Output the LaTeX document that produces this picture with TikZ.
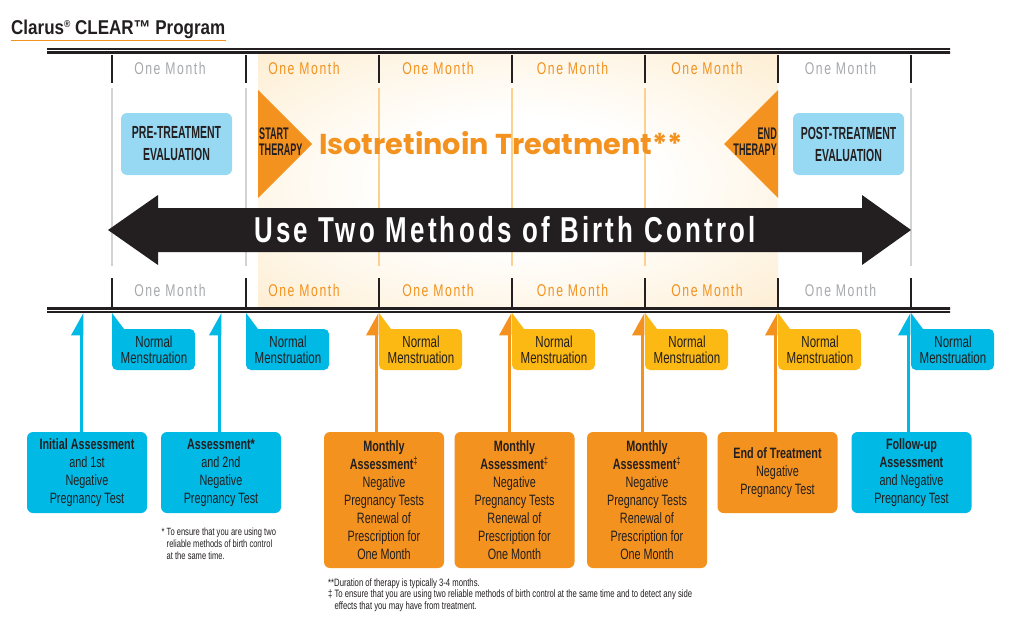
\documentclass[tikz,border=0pt]{standalone}
\usepackage{fontspec}
\setmainfont{Liberation Sans}
\newfontfamily\cnd[FakeStretch=0.72]{Liberation Sans}
\newfontfamily\hdf[FakeStretch=0.6]{Liberation Sans}
\newfontfamily\thf[FakeStretch=0.54]{Liberation Sans}
\newfontfamily\ttlf[FakeStretch=0.85]{Liberation Sans}
\newfontfamily\mthf[FakeStretch=0.72,LetterSpace=9]{Liberation Sans}
\newfontfamily\arrf[FakeStretch=0.72,LetterSpace=9]{Liberation Sans}
\newfontfamily\popf{Poppins}
\usetikzlibrary{arrows.meta}
\definecolor{cyanc}{HTML}{00B9E4}
\definecolor{lblue}{HTML}{97D9F2}
\definecolor{orng}{HTML}{F3921F}
\definecolor{yell}{HTML}{FDB913}
\definecolor{dk}{HTML}{231F20}
\definecolor{gtext}{HTML}{A7A9AC}
\definecolor{gline}{HTML}{D1D3D4}
\definecolor{oline}{HTML}{FCD18E}
\definecolor{treatbg}{HTML}{FDE4B8}
\pgfdeclareradialshading{glow}{\pgfpoint{0bp}{0bp}}{color(0bp)=(white); color(13bp)=(white); color(50bp)=(treatbg)}
\pgfdeclarehorizontalshading{fadeline}{100bp}{color(0bp)=(white); color(4.5bp)=(dk); color(97bp)=(dk); color(100bp)=(white)}
\newcommand\mcallout[3]{%
  \fill[#2] (#1,313) -- (#1+12,329) [rounded corners=5pt] -- (#1+83,329) -- (#1+83,370) -- (#1,370) [sharp corners] -- cycle;
  \node[ctext] (#3) at (#1+42,350) {Normal\\Menstruation};}
\begin{document}
\begin{tikzpicture}[x=1pt,y=-1pt,
  bbox/.style={fill=cyanc, rounded corners=6pt, minimum width=120pt, minimum height=81pt, inner sep=0pt, align=center, text=dk, font=\cnd\fontsize{15}{18}\selectfont},
  obox/.style={bbox, fill=orng},
  evbox/.style={fill=lblue, rounded corners=6pt, minimum width=111pt, minimum height=62pt, inner sep=0pt, align=center, text=dk, font=\hdf\bfseries\fontsize{17.5}{22}\selectfont},
  mlab/.style={font=\mthf\fontsize{17}{17}\selectfont, inner sep=0pt},
  ctext/.style={font=\cnd\fontsize{16}{16}\selectfont, text=dk, align=center, inner sep=0pt},
  thtext/.style={font=\thf\bfseries\fontsize{16.8}{16}\selectfont, text=dk, inner sep=0pt},
  tickln/.style={draw=dk, line width=2pt},
  upb/.style={draw=cyanc, line width=3.5pt, -{Triangle[harpoon, length=19pt, width=20pt]}},
  upo/.style={upb, draw=orng},
  fnote/.style={font=\cnd\fontsize{10.5}{12}\selectfont, text=dk, align=left, inner sep=0pt, anchor=north west}]
\useasboundingbox[fill=white] (0,0) rectangle (1012,626);
% treatment shading
\shade[shading=glow] (258,55) rectangle (778,308);
% double lines
\shade[shading=fadeline] (47,48.4) rectangle (950,50.0);
\shade[shading=fadeline] (47,51.7) rectangle (950,53.1);
\shade[shading=fadeline] (47,307.5) rectangle (950,309.1);
\shade[shading=fadeline] (47,311.0) rectangle (950,312.4);
% light vertical lines
\foreach \x in {112,246,911} \draw[gline, line width=1.2pt] (\x,88) -- (\x,266);
\foreach \x in {379,512,645} \draw[oline, line width=1.2pt] (\x,88) -- (\x,266);
% ticks
\foreach \x in {112,246,379,512,645,778,911} {
  \draw[tickln] (\x,55) -- (\x,83);
  \draw[tickln] (\x,278) -- (\x,307);}
% month labels
\foreach \x/\c/\n in {170/gtext/1,304/orng/2,438/orng/3,572.5/orng/4,707/orng/5,840.5/gtext/6} {
  \node[mlab, text=\c] (tm\n) at (\x,68.5) {One Month};
  \node[mlab, text=\c] (bm\n) at (\x,290) {One Month};}
% title
\node[anchor=base west, inner sep=0pt, font=\ttlf\bfseries\fontsize{20}{20}\selectfont, text=dk] (title) at (11,35) {Clarus\raisebox{7pt}{\fontsize{10}{10}\selectfont ®} CLEAR™ Program};
\draw[orng, line width=1.6pt] (10.5,40.5) -- (225.5,40.5);
% evaluation boxes
\node[evbox] (pre) at (176.5,144) {PRE-TREATMENT\\EVALUATION};
\node[evbox] (post) at (848.5,144) {POST-TREATMENT\\EVALUATION};
% therapy triangles
\fill[orng] (258,90) -- (312,144) -- (258,198) -- cycle;
\fill[orng] (778,90) -- (724,144) -- (778,198) -- cycle;
\node[thtext, anchor=west, align=left] (st) at (259,141.5) {START\\THERAPY};
\node[thtext, anchor=east, align=right] (et) at (777,141.5) {END\\THERAPY};
\node[anchor=base, font=\popf\bfseries\fontsize{28.7}{29}\selectfont, text=orng, inner sep=0pt] (iso) at (501,154) {Isotretinoin Treatment**};
% big arrow
\fill[dk] (108,230) -- (158,195) -- (158,208) -- (862,208) -- (862,195) -- (911,230) -- (862,265) -- (862,252) -- (158,252) -- (158,265) -- cycle;
\node[font=\arrf\bfseries\fontsize{36}{36}\selectfont, text=white, inner sep=0pt] (bc) at (505,230) {Use Two Methods of Birth Control};
% callouts
\mcallout{112}{cyanc}{c1}
\mcallout{246}{cyanc}{c2}
\mcallout{379}{yell}{c3}
\mcallout{512}{yell}{c4}
\mcallout{645}{yell}{c5}
\mcallout{778}{yell}{c6}
\mcallout{911}{cyanc}{c7}
% bottom boxes
\node[bbox] (b1) at (87,472.5) {\textbf{Initial Assessment}\\and 1st\\Negative\\Pregnancy Test};
\node[bbox] (b2) at (221,472.5) {\textbf{Assessment*}\\and 2nd\\Negative\\Pregnancy Test};
\node[obox, minimum height=136pt] (m1) at (384,500) {\textbf{Monthly}\\\textbf{Assessment}\textsuperscript{‡}\\Negative\\Pregnancy Tests\\Renewal of\\Prescription for\\One Month};
\node[obox, minimum height=136pt] (m2) at (514.5,500) {\textbf{Monthly}\\\textbf{Assessment}\textsuperscript{‡}\\Negative\\Pregnancy Tests\\Renewal of\\Prescription for\\One Month};
\node[obox, minimum height=136pt] (m3) at (647,500) {\textbf{Monthly}\\\textbf{Assessment}\textsuperscript{‡}\\Negative\\Pregnancy Tests\\Renewal of\\Prescription for\\One Month};
\node[obox] (e1) at (777.5,472.5) {\textbf{End of Treatment}\\Negative\\Pregnancy Test};
\node[bbox] (f1) at (911.5,472.5) {\textbf{Follow-up}\\\textbf{Assessment}\\and Negative\\Pregnancy Test};
% arrow tips
\coordinate (t1) at (81.5,313);
\coordinate (t2) at (219.5,313);
\coordinate (t3) at (376.5,313);
\coordinate (t4) at (509.5,313);
\coordinate (t5) at (642.5,313);
\coordinate (t6) at (775.5,313);
\coordinate (t7) at (908.5,313);
\draw[upb] (b1.north -| t1) -- (t1);
\draw[upb] (b2.north -| t2) -- (t2);
\draw[upo] (m1.north -| t3) -- (t3);
\draw[upo] (m2.north -| t4) -- (t4);
\draw[upo] (m3.north -| t5) -- (t5);
\draw[upo] (e1.north -| t6) -- (t6);
\draw[upb] (f1.north -| t7) -- (t7);
% footnotes
\node[fnote] (fn1) at (161.5,527.5) {* To ensure that you are using two\\\phantom{* }reliable methods of birth control\\\phantom{* }at the same time.};
\node[fnote, font=\cnd\fontsize{10.7}{11.5}\selectfont] (fn2) at (328,578.5) {**Duration of therapy is typically 3-4 months.\\‡ To ensure that you are using two reliable methods of birth control at the same time and to detect any side\\\phantom{‡ }effects that you may have from treatment.};
\end{tikzpicture}
\end{document}
